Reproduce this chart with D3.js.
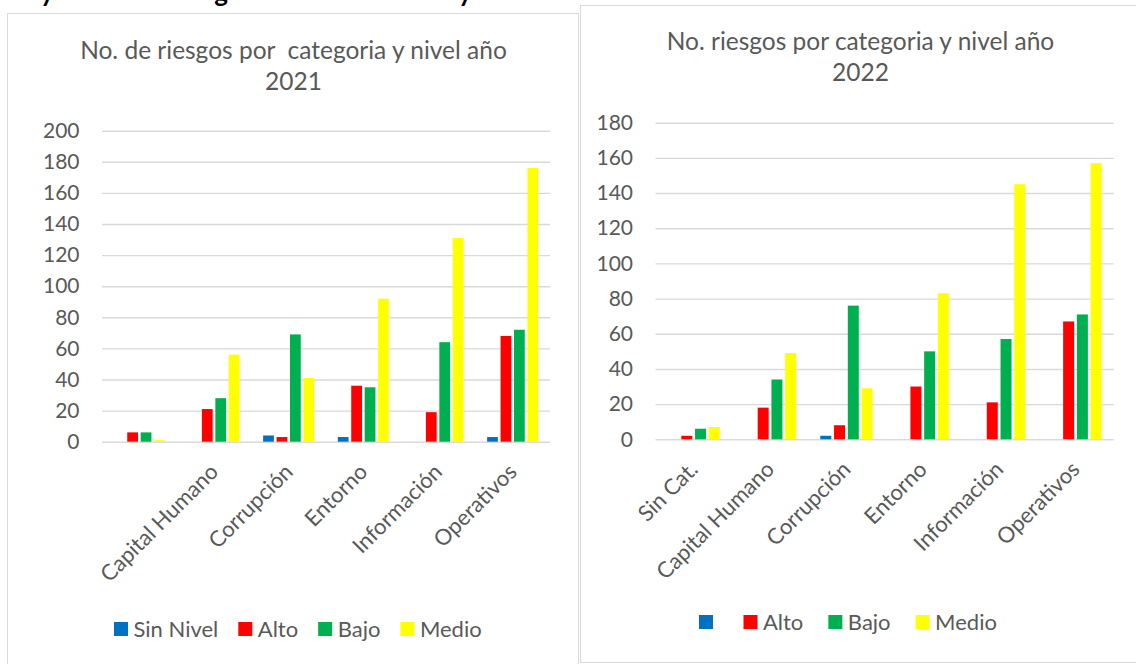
<!DOCTYPE html>
<html>
<head>
<meta charset="utf-8">
<script src="https://cdn.jsdelivr.net/npm/d3@7"></script>
<style>
  html, body { margin: 0; padding: 0; background: #ffffff; }
  svg { display: block; }
  text { font-family: Lato, "Open Sans", sans-serif; }
</style>
</head>
<body>
<svg id="chart" width="1136" height="664"></svg>
<script>
// ---- Data ----
const levels = ["Sin Nivel", "Alto", "Bajo", "Medio"];
const levelColors = ["#0070C0", "#FF0000", "#00B050", "#FFFF00"];

const categories2021 = ["", "Capital Humano", "Corrupción", "Entorno", "Información", "Operativos"];
const sinNivel2021 = [0, 0, 4, 3, 0, 3];
const alto2021     = [6, 21, 3, 36, 19, 68];
const bajo2021     = [6, 28, 69, 35, 64, 72];
const medio2021    = [1, 56, 41, 92, 131, 176];
const ticks2021    = [0, 20, 40, 60, 80, 100, 120, 140, 160, 180, 200];
const legend2021   = ["Sin Nivel", "Alto", "Bajo", "Medio"];
const title2021    = ["No. de riesgos por  categoria y nivel año", "2021"];

const categories2022 = ["Sin Cat.", "Capital Humano", "Corrupción", "Entorno", "Información", "Operativos"];
const sinNivel2022 = [0, 0, 2, 0, 0, 0];
const alto2022     = [2, 18, 8, 30, 21, 67];
const bajo2022     = [6, 34, 76, 50, 57, 71];
const medio2022    = [7, 49, 29, 83, 145, 157];
const ticks2022    = [0, 20, 40, 60, 80, 100, 120, 140, 160, 180];
const legend2022   = ["", "Alto", "Bajo", "Medio"];
const title2022    = ["No. riesgos por categoria y nivel año", "2022"];

// ---- Drawing ----
const svg = d3.select("#chart");
const TEXT = "#595959";
const GRID = "#d9d9d9";

// cut-off document heading above the charts (only descenders visible, as in the source)
const heading = svg.append("text")
  .attr("y", 1.5)
  .attr("font-size", 26)
  .attr("font-weight", "bold")
  .attr("fill", "#000")
  .attr("text-anchor", "middle");
[["y", 47], ["g", 221], ["y", 465]].forEach(([t, x]) =>
  heading.append("tspan").attr("x", x).text(t));

function drawChart(cfg) {
  const g = svg.append("g");
  // chart box
  g.append("rect")
    .attr("x", cfg.box[0]).attr("y", cfg.box[1])
    .attr("width", cfg.box[2]).attr("height", cfg.box[3])
    .attr("fill", "#fff").attr("stroke", GRID).attr("stroke-width", 1);

  // title
  cfg.title.forEach((t, i) => {
    g.append("text")
      .attr("x", cfg.titleX).attr("y", cfg.titleY[i])
      .attr("text-anchor", "middle")
      .attr("font-size", cfg.titleSize)
      .attr("fill", TEXT)
      .style("white-space", "pre")
      .text(t);
  });

  const [px0, px1] = cfg.plotX;
  const [py0, py1] = cfg.plotY;
  const y = d3.scaleLinear().domain([0, d3.max(cfg.ticks)]).range([py0, py1]);
  const x0 = d3.scaleBand().domain(d3.range(cfg.categories.length))
    .range([px0, px1]).paddingInner(0.28).paddingOuter(0.14);
  const x1 = d3.scaleBand().domain(levels).range([0, x0.bandwidth()])
    .paddingInner(0.2).paddingOuter(0.1);

  // y axis with gridlines
  const yAxis = d3.axisLeft(y).tickValues(cfg.ticks)
    .tickSize(-(px1 - px0)).tickPadding(22.5).tickFormat(d3.format("d"));
  const ga = g.append("g").attr("transform", `translate(${px0},0)`).call(yAxis);
  ga.select(".domain").remove();
  ga.selectAll(".tick line").attr("stroke", GRID).attr("stroke-width", 1.4);
  ga.selectAll(".tick text")
    .attr("fill", TEXT).attr("font-size", cfg.tickSize)
    .attr("font-family", "Lato, 'Open Sans', sans-serif");

  // bars
  const series = cfg.series;
  cfg.categories.forEach((c, i) => {
    levels.forEach((lv, j) => {
      const v = series[j][i];
      if (v <= 0) return;
      g.append("rect")
        .attr("x", x0(i) + x1(lv))
        .attr("y", y(v))
        .attr("width", x1.bandwidth())
        .attr("height", y(0) - y(v))
        .attr("fill", levelColors[j]);
    });
  });

  // x labels
  cfg.categories.forEach((c, i) => {
    const cx = x0(i) + x0.bandwidth() / 2;
    g.append("text")
      .attr("transform", `translate(${cx + 5.5},${py0 + 31.5}) rotate(-45)`)
      .attr("text-anchor", "end")
      .attr("font-size", cfg.labelSize)
      .attr("fill", TEXT)
      .text(c);
  });

  // legend
  let lx = cfg.legendX;
  const sq = 14;
  cfg.legend.forEach((lbl, j) => {
    g.append("rect")
      .attr("x", lx).attr("y", cfg.legendY - sq / 2)
      .attr("width", sq).attr("height", sq)
      .attr("fill", levelColors[j]);
    const t = g.append("text")
      .attr("x", lx + sq + 5.5).attr("y", cfg.legendY)
      .attr("dy", "0.36em")
      .attr("font-size", cfg.legendSize)
      .attr("fill", TEXT)
      .text(lbl);
    const w = lbl ? t.node().getComputedTextLength() : 0;
    lx += sq + 5.5 + w + cfg.legendGap;
  });
}

drawChart({
  box: [7.5, 13.5, 571, 700],
  title: title2021, titleX: 293.5, titleY: [59, 90], titleSize: 24.5,
  plotX: [102, 550], plotY: [441.7, 130.7],
  ticks: ticks2021, categories: categories2021,
  series: [sinNivel2021, alto2021, bajo2021, medio2021],
  legend: legend2021, legendX: 114, legendY: 629, legendGap: 20,
  tickSize: 21, labelSize: 22, legendSize: 22
});

drawChart({
  box: [580.5, 5.5, 560, 657],
  title: title2022, titleX: 860.5, titleY: [49.5, 80.5], titleSize: 24.5,
  plotX: [655.5, 1113.7], plotY: [439.3, 122.7],
  ticks: ticks2022, categories: categories2022,
  series: [sinNivel2022, alto2022, bajo2022, medio2022],
  legend: legend2022, legendX: 699, legendY: 622, legendGap: 25,
  tickSize: 21, labelSize: 22, legendSize: 22
});
</script>
</body>
</html>
